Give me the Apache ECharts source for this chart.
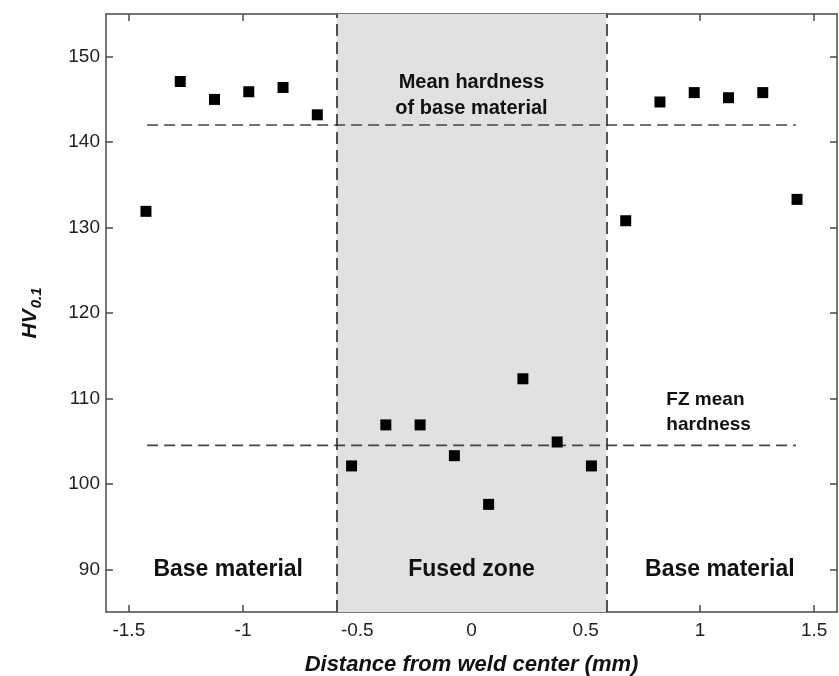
<!DOCTYPE html>
<html>
<head>
<meta charset="utf-8">
<script src="https://cdn.jsdelivr.net/npm/echarts@6/dist/echarts.min.js"></script>
<style>html,body{margin:0;padding:0;background:#fff;}#c{width:839px;height:676px;}</style>
</head>
<body>
<div id="c"></div>
<script>
// Data
var baseLeftX = [-1.425, -1.275, -1.125, -0.975, -0.825, -0.675];
var baseLeftY = [131.9, 147.1, 145.0, 145.9, 146.4, 143.2];
var fusedX = [-0.525, -0.375, -0.225, -0.075, 0.075, 0.225, 0.375, 0.525];
var fusedY = [102.1, 106.9, 106.9, 103.3, 97.6, 112.3, 104.9, 102.1];
var baseRightX = [0.675, 0.825, 0.975, 1.125, 1.275, 1.425];
var baseRightY = [130.8, 144.7, 145.8, 145.2, 145.8, 133.3];
var fusedZoneBounds = [-0.59, 0.59];
var meanBase = 142.0;
var meanFZ = 104.5;
var meanLineX = [-1.42, 1.42];
var xTicks = [-1.5, -1, -0.5, 0, 0.5, 1, 1.5];
var yTicks = [90, 100, 110, 120, 130, 140, 150];

var FONT = '"Liberation Sans", Arial, Helvetica, sans-serif';
var points = [];
baseLeftX.forEach(function (x, i) { points.push([x, baseLeftY[i]]); });
fusedX.forEach(function (x, i) { points.push([x, fusedY[i]]); });
baseRightX.forEach(function (x, i) { points.push([x, baseRightY[i]]); });

var axisLineStyle = { color: '#4a4a4a', width: 1.5 };
function xLabelFmt(v) { return v === 0 ? '0' : String(v); }

var chart = echarts.init(document.getElementById('c'), null, { renderer: 'canvas' });
var option = {
  animation: false,
  backgroundColor: '#ffffff',
  grid: { left: 106, right: 2, top: 14, bottom: 64, containLabel: false, outerBoundsMode: 'none' },
  xAxis: [{
    type: 'value', min: -1.6, max: 1.6, position: 'bottom',
    axisLine: { show: true, onZero: false, lineStyle: axisLineStyle },
    axisTick: { show: true, inside: true, length: 7, customValues: xTicks, lineStyle: axisLineStyle },
    axisLabel: { customValues: xTicks, formatter: xLabelFmt, fontFamily: FONT, fontSize: 19, color: '#222', margin: 9 },
    splitLine: { show: false },
    name: 'Distance from weld center (mm)', nameLocation: 'middle', nameGap: 42,
    nameTextStyle: { fontFamily: FONT, fontSize: 22, fontWeight: 'bold', fontStyle: 'italic', color: '#111' }
  }, {
    type: 'value', min: -1.6, max: 1.6, position: 'top',
    axisLine: { show: true, onZero: false, lineStyle: axisLineStyle },
    axisTick: { show: true, inside: true, length: 7, customValues: xTicks, lineStyle: axisLineStyle },
    axisLabel: { show: false }, splitLine: { show: false }
  }],
  yAxis: [{
    type: 'value', min: 85, max: 155, position: 'left',
    axisLine: { show: true, onZero: false, lineStyle: axisLineStyle },
    axisTick: { show: true, inside: true, length: 7, customValues: yTicks, lineStyle: axisLineStyle },
    axisLabel: { customValues: yTicks, fontFamily: FONT, fontSize: 19, color: '#222', margin: 6 },
    splitLine: { show: false },
    name: '{hv|HV}{sub|0.1}', nameLocation: 'middle', nameGap: 62, nameRotate: 90,
    nameTextStyle: {
      rich: {
        hv: { fontFamily: FONT, fontSize: 21, fontWeight: 'bold', fontStyle: 'italic', color: '#111', verticalAlign: 'top', lineHeight: 24 },
        sub: { fontFamily: FONT, fontSize: 15, fontWeight: 'bold', fontStyle: 'italic', color: '#111', verticalAlign: 'bottom', lineHeight: 15, padding: [12, 0, 0, 1] }
      }
    }
  }, {
    type: 'value', min: 85, max: 155, position: 'right',
    axisLine: { show: true, onZero: false, lineStyle: axisLineStyle },
    axisTick: { show: true, inside: true, length: 7, customValues: yTicks, lineStyle: axisLineStyle },
    axisLabel: { show: false }, splitLine: { show: false }
  }],
  series: [
    {
      type: 'scatter', data: [], z: 1, silent: true,
      markArea: {
        silent: true,
        itemStyle: { color: '#e1e1e1' },
        data: [[{ xAxis: fusedZoneBounds[0] }, { xAxis: fusedZoneBounds[1] }]]
      },
      markLine: {
        silent: true, symbol: 'none', label: { show: false },
        lineStyle: { color: '#2a2a2a', width: 1.6, type: [12, 6] },
        data: [{ xAxis: fusedZoneBounds[0] }, { xAxis: fusedZoneBounds[1] }]
      }
    },
    {
      type: 'line', data: [[meanLineX[0], meanBase], [meanLineX[1], meanBase]], showSymbol: false, symbol: 'none', z: 3,
      lineStyle: { color: '#444', width: 1.6, type: [11, 6] }, silent: true
    },
    {
      type: 'line', data: [[meanLineX[0], meanFZ], [meanLineX[1], meanFZ]], showSymbol: false, symbol: 'none', z: 3,
      lineStyle: { color: '#444', width: 1.6, type: [11, 6] }, silent: true
    },
    {
      type: 'scatter', data: points, symbol: 'rect', symbolSize: 11, z: 5,
      itemStyle: { color: '#000', opacity: 1 }
    }
  ]
};
chart.setOption(option);

function px(x, y) { return chart.convertToPixel({ xAxisIndex: 0, yAxisIndex: 0 }, [x, y]); }
function txt(x, y, s, size, align, weight) {
  var p = px(x, y);
  return { type: 'text', x: p[0], y: p[1], z: 10,
    style: { text: s, font: (weight || 'bold') + ' ' + size + 'px ' + FONT, fill: '#111', align: align || 'center', verticalAlign: 'middle' } };
}
chart.setOption({
  graphic: [
    txt(0, 147.0, 'Mean hardness', 20),
    txt(0, 143.9, 'of base material', 20),
    txt(0.853, 109.9, 'FZ mean', 19, 'left'),
    txt(0.853, 106.9, 'hardness', 19, 'left'),
    txt(-1.065, 90.0, 'Base material', 23),
    txt(0, 90.0, 'Fused zone', 23),
    txt(1.087, 90.0, 'Base material', 23)
  ]
});
</script>
</body>
</html>
